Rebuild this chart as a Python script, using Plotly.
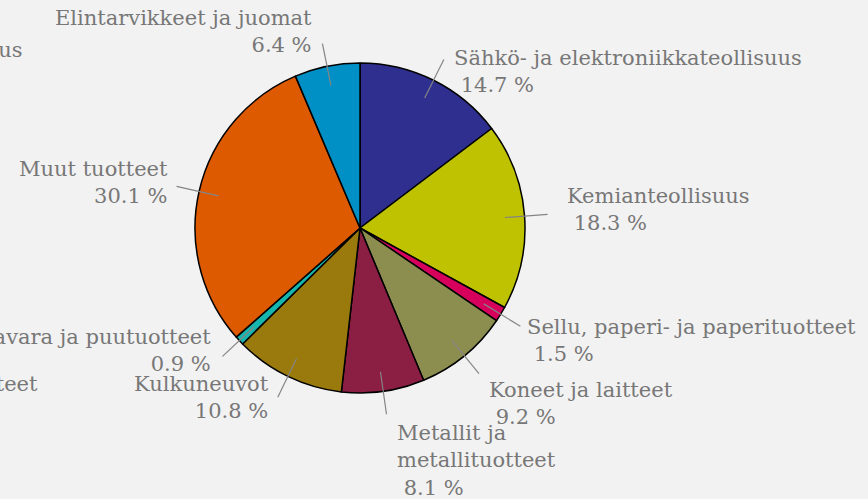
import math
import plotly.graph_objects as go

W, H = 868, 499

labels = [
    "Sähkö- ja elektroniikkateollisuus",
    "Kemianteollisuus",
    "Sellu, paperi- ja paperituotteet",
    "Koneet ja laitteet",
    "Metallit ja<br>metallituotteet",
    "Kulkuneuvot",
    "Puutavara ja puutuotteet",
    "Muut tuotteet",
    "Elintarvikkeet ja juomat",
]
shares = [14.7, 18.3, 1.5, 9.2, 8.1, 10.8, 0.9, 30.1, 6.4]
colors = ["#2e2f8f", "#bfc200", "#d6005c", "#8c8e50", "#8b1e43",
          "#9a7a0c", "#16b6ae", "#dd5a00", "#0090c6"]

# pie geometry in page pixels
CX, CY, R = 360, 228, 165
FONT = dict(family="DejaVu Serif", size=21, color="#777777")

# label placement: (dx, dy) from the leader's outer end, alignment
label_pos = [
    (8, 12, "left"), (17, -5, "left"), (5, 14, "left"), (8, 30, "left"),
    (8, 46, "left"), (-7, 0, "right"), (-9, -6, "right"), (-7, -4, "right"),
    (-8, -12, "right"),
]


def px(x):
    return x / W


def py(y):
    return 1 - y / H


fig = go.Figure(go.Pie(
    labels=labels,
    values=shares,
    sort=False,
    direction="clockwise",
    rotation=0,
    textinfo="none",
    hoverinfo="label+percent",
    marker=dict(colors=colors, line=dict(color="#000000", width=1.5)),
    domain=dict(x=[px(CX - R), px(CX + R)], y=[py(CY + R), py(CY - R)]),
    showlegend=False,
))

shapes = []
annotations = []
total = sum(shares)
cum = 0
for lab, val, (dx, dy, align) in zip(labels, shares, label_pos):
    mid = (cum + val / 2) / total * 2 * math.pi
    cum += val
    sx, sy = math.sin(mid), -math.cos(mid)
    x0, y0 = CX + 0.88 * R * sx, CY + 0.88 * R * sy
    x1, y1 = CX + 1.14 * R * sx, CY + 1.14 * R * sy
    shapes.append(dict(type="line", xref="paper", yref="paper",
                       x0=px(x0), y0=py(y0), x1=px(x1), y1=py(y1),
                       line=dict(color="#858585", width=1.2)))
    pct = f"{val:.1f} %"
    if align == "left":
        text = f"{lab}<br>\u00a0{pct}"
    else:
        text = f"{lab}<br>{pct}"
    annotations.append(dict(
        x=px(x1 + dx), y=py(y1 + dy), xref="paper", yref="paper",
        text=text, showarrow=False, align=align,
        xanchor=align, yanchor="middle", font=FONT,
    ))

# clipped labels at the left edge of the page
annotations.append(dict(x=px(25), y=py(50), xref="paper", yref="paper",
                        text="Kemianteollisuus", showarrow=False,
                        xanchor="right", yanchor="middle", font=FONT))
annotations.append(dict(x=px(40), y=py(384), xref="paper", yref="paper",
                        text="Muut tuotteet", showarrow=False,
                        xanchor="right", yanchor="middle", font=FONT))

fig.update_layout(
    width=W, height=H,
    margin=dict(l=0, r=0, t=0, b=0),
    paper_bgcolor="#f2f2f2",
    plot_bgcolor="#f2f2f2",
    shapes=shapes,
    annotations=annotations,
)

fig.write_html("out.html", config={"displayModeBar": False},
               post_script="document.body.style.margin='0';")
